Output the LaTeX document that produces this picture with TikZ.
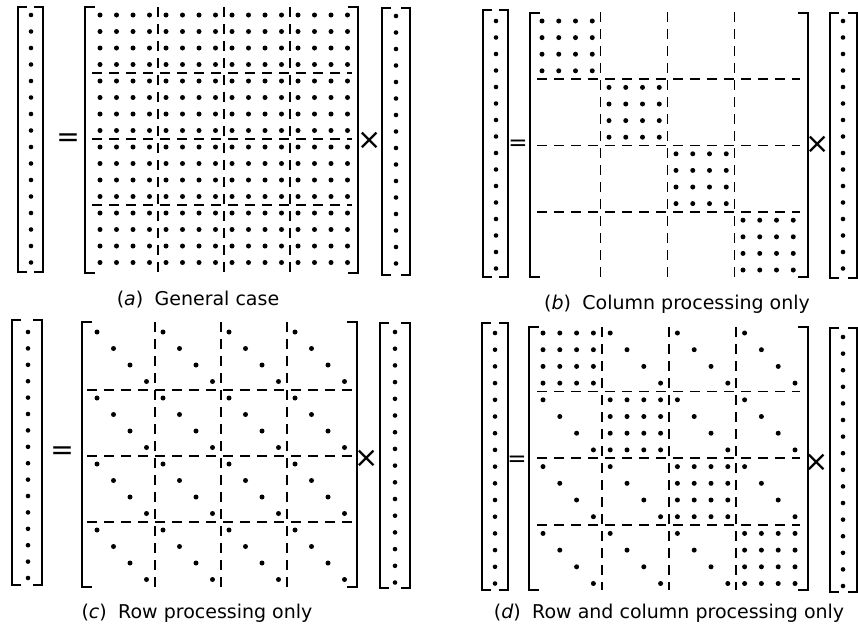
\documentclass[tikz,border=0pt]{standalone}
\usepackage{fontspec}
\setmainfont{DejaVu Sans}
\tikzset{
  brk/.style={line width=2.8pt, line join=miter},
  dsh/.style={line width=1.7pt, dash pattern=on 10pt off 7pt},
  sym/.style={inner sep=0pt, font=\fontsize{#1}{#1}\selectfont},
  captxt/.style={anchor=base, inner sep=0pt, font=\fontsize{19}{19}\selectfont}
}
% left bracket: x, top, bottom, serif
\newcommand\lbr[4]{\draw[brk] ({#1+#4},#2) -| (#1,#3) -- ({#1+#4},#3);}
\newcommand\rbr[4]{\draw[brk] ({#1-#4},#2) -| (#1,#3) -- ({#1-#4},#3);}
% vector dots: x, y0, s
\newcommand\vecdots[3]{\foreach \k in {0,...,15}{\fill (#1,{#2+\k*#3}) circle[radius=2.3];}}
% matrix dots: x0, y0, sx, sy, type
\newcommand\mdots[5]{%
  \foreach \r in {0,...,15}{\foreach \c in {0,...,15}{%
    \pgfmathtruncatemacro\show{(#5==1) + (#5==2)*(int(\r/4)==int(\c/4)) + (#5==3)*(mod(\r,4)==mod(\c,4)) + (#5==4)*max(int(\r/4)==int(\c/4), mod(\r,4)==mod(\c,4))}%
    \ifnum\show>0 \fill ({#1+\c*#3},{#2+\r*#4}) circle[radius=2.5];\fi
  }}}
% grid: x0 y0 sx sy xl xr yt yb
\newcommand\mgrid[8]{%
  \foreach \k in {0,1,2}{%
    \draw[dsh] ({#1+(3.5+4*\k)*#3},#7) -- ({#1+(3.5+4*\k)*#3},#8);
    \draw[dsh] (#5,{#2+(3.5+4*\k)*#4}) -- (#6,{#2+(3.5+4*\k)*#4});
  }}
\begin{document}
\begin{tikzpicture}[x=1pt,y=-1pt]
\useasboundingbox (0,0) rectangle (858,627);
% ---------- (a) ----------
\lbr{18}{7}{272}{9}\rbr{43}{7}{272}{9}\vecdots{31}{15}{16.5}
\node[sym=28] (eqa) at (68,140) {=};
\lbr{85}{7}{273}{10}\rbr{358}{7}{273}{10}
\mdots{100}{15}{16.5}{16.5}{1}
\mgrid{100}{15}{16.5}{16.5}{92}{352}{7}{273}
\node[sym=29] (xa) at (370,141) {×};
\lbr{382}{8}{275}{9}\rbr{410}{8}{275}{9}\vecdots{396}{16}{16.5}
\node[captxt] (capa) at (198,305) {(\textit{a})\hspace{0.6em}General case};
% ---------- (b) ----------
\lbr{483}{10}{277}{9}\rbr{508}{10}{277}{9}\vecdots{496}{21}{16.5}
\node[sym=23] (eqb) at (518,145) {=};
\lbr{530}{13}{277}{10}\rbr{808}{13}{277}{10}
\mdots{542}{21}{16.75}{16.6}{2}
\mgrid{542}{21}{16.75}{16.6}{537}{800}{12}{277}
\node[sym=29] (xb) at (818,145) {×};
\lbr{830}{13}{278}{9}\rbr{857}{13}{278}{9}\vecdots{843}{21}{16.5}
\node[captxt] (capb) at (677,309) {(\textit{b})\hspace{0.6em}Column processing only};
% ---------- (c) ----------
\lbr{12}{320}{585}{9}\rbr{42}{320}{585}{9}\vecdots{28}{332}{16.4}
\node[sym=28] (eqc) at (62,453) {=};
\lbr{82}{322}{587}{10}\rbr{357}{322}{587}{10}
\mdots{97}{332}{16.5}{16.5}{3}
\mgrid{97}{332}{16.5}{16.5}{87}{352}{322}{588}
\node[sym=29] (xc) at (367,459) {×};
\lbr{380}{323}{588}{9}\rbr{410}{323}{588}{9}\vecdots{395}{332}{16.7}
\node[captxt] (capc) at (197,618) {(\textit{c})\hspace{0.6em}Row processing only};
% ---------- (d) ----------
\lbr{482}{323}{590}{9}\rbr{508}{323}{590}{9}\vecdots{495}{333}{16.7}
\node[sym=23] (eqd) at (517,461) {=};
\lbr{529}{327}{590}{10}\rbr{808}{327}{590}{10}
\mdots{543}{333}{16.8}{16.7}{4}
\mgrid{543}{333}{16.8}{16.7}{537}{800}{327}{590}
\node[sym=29] (xd) at (817,463) {×};
\lbr{830}{328}{592}{9}\rbr{857}{328}{592}{9}\vecdots{843}{337}{16.6}
\node[captxt] (capd) at (669,618) {(\textit{d})\hspace{0.6em}Row and column processing only};
\end{tikzpicture}
\end{document}
